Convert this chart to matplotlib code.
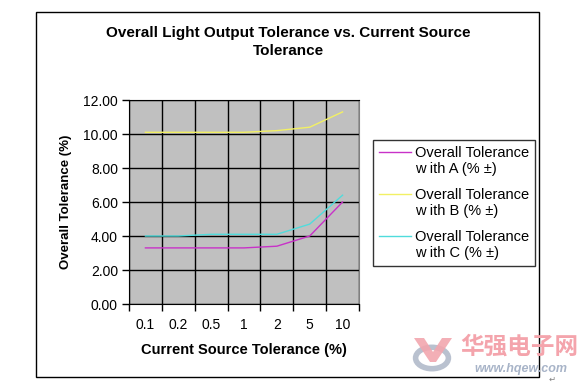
import numpy as np
import matplotlib.pyplot as plt
from matplotlib.patches import Rectangle, Circle, Polygon
from matplotlib.lines import Line2D
from matplotlib.legend_handler import HandlerLine2D

plt.rcParams['font.family'] = ['Liberation Sans', 'DejaVu Sans']

# data
categories = ['0.1', '0.2', '0.5', '1', '2', '5', '10']
tol_a = [3.3, 3.3, 3.3, 3.3, 3.4, 4.0, 6.0]
tol_b = [10.1, 10.1, 10.1, 10.1, 10.2, 10.4, 11.3]
tol_c = [4.0, 4.0, 4.1, 4.1, 4.1, 4.7, 6.4]
series_labels = ['Overall Tolerance\nw ith A (% \u00b1)',
                 'Overall Tolerance\nw ith B (% \u00b1)',
                 'Overall Tolerance\nw ith C (% \u00b1)']
colors = ['#C832C8', '#F2F064', '#50DCDC']

W, H = 586, 382
fig = plt.figure(figsize=(W / 100, H / 100), dpi=100)

def fx(px):
    return px / W

def fy(py):
    return 1 - py / H


# legend line sits next to the first text line, like Excel does
class FirstLineHandler(HandlerLine2D):
    def create_artists(self, legend, orig_handle, xdescent, ydescent,
                       width, height, fontsize, trans):
        arts = super().create_artists(legend, orig_handle, xdescent, ydescent,
                                      width, height, fontsize, trans)
        for a in arts:
            a.set_ydata(np.asarray(a.get_ydata()) + 6.5)
        return arts


# outer chart border
fig.patches.append(Rectangle((fx(36), fy(377)), fx(539) - fx(36), fy(12) - fy(377),
                             transform=fig.transFigure, fill=False,
                             edgecolor='black', linewidth=1.0))

ax = fig.add_axes([fx(129), fy(304), fx(359) - fx(129), fy(100) - fy(304)])
ax.set_facecolor('#C0C0C0')

x = np.arange(len(categories))
for ys, c, lab in zip([tol_a, tol_b, tol_c], colors, series_labels):
    ax.plot(x, ys, color=c, linewidth=1.0, label=lab)

ax.set_xlim(-0.5, len(categories) - 0.5)
ax.set_ylim(0, 12)
ax.set_yticks(np.arange(0, 12.01, 2))
ax.set_yticklabels([f'{v:.2f}' for v in np.arange(0, 12.01, 2)], fontsize=10)
ax.set_xticks(np.arange(-0.5, len(categories), 1.0))
ax.set_xticklabels([])
ax.set_xticks(x, minor=True)
ax.set_xticklabels(categories, minor=True, fontsize=10)
ax.tick_params(axis='x', which='minor', length=0, pad=10)
ax.tick_params(axis='x', which='major', length=5, width=1, direction='out')
ax.tick_params(axis='y', length=5, width=1, direction='out', pad=3)
ax.grid(True, which='major', color='black', linewidth=1.0)
ax.set_axisbelow(True)
ax.spines['right'].set_color('#808080')
ax.spines['top'].set_color('black')

ax.set_ylabel('Overall Tolerance (%)', fontsize=9.5, fontweight='bold', labelpad=8)
ax.set_xlabel('Current Source Tolerance (%)', fontsize=10.5, fontweight='bold', labelpad=8)

fig.text(fx(288), fy(42), 'Overall Light Output Tolerance vs. Current Source\nTolerance',
         ha='center', va='center', fontsize=11, fontweight='bold', linespacing=1.3)

# legend
handles = [Line2D([], [], color=c, linewidth=1.0) for c in colors]
leg = fig.legend(handles, series_labels, loc='upper left',
                 bbox_to_anchor=(fx(373), fy(140)), fontsize=10.5,
                 frameon=True, fancybox=False, edgecolor='black',
                 handlelength=2.2, handletextpad=0.25, borderpad=0.4,
                 labelspacing=0.8, borderaxespad=0,
                 handler_map={Line2D: FirstLineHandler()})
leg.get_frame().set_linewidth(1.0)

# watermark
fig.patches.append(Circle((fx(432), fy(358)), 0.028, transform=fig.transFigure,
                          fill=False, edgecolor='#A8B2C4', linewidth=4, alpha=0.8))
fig.patches.append(Polygon([(fx(414), fy(338)), (fx(424), fy(338)), (fx(433), fy(352)),
                            (fx(442), fy(338)), (fx(452), fy(338)), (fx(436), fy(362)),
                            (fx(430), fy(362))],
                           closed=True, transform=fig.transFigure,
                           facecolor='#F2A6AE', edgecolor='none', alpha=0.9))
fig.text(fx(519), fy(347), '华强电子网', ha='center', va='center', fontsize=17,
         color='#F4A4AC', family=['Noto Sans CJK SC', 'DejaVu Sans'], fontweight='bold')
fig.text(fx(521), fy(369), 'www.hqew.com', ha='center', va='center', fontsize=9,
         color='#A8B4C8', fontweight='bold', style='italic')
fig.text(fx(552), fy(379), '\u21b5', ha='center', va='center', fontsize=6,
         color='#808080', family=['DejaVu Sans'])

fig.savefig('out.png', dpi=100)
